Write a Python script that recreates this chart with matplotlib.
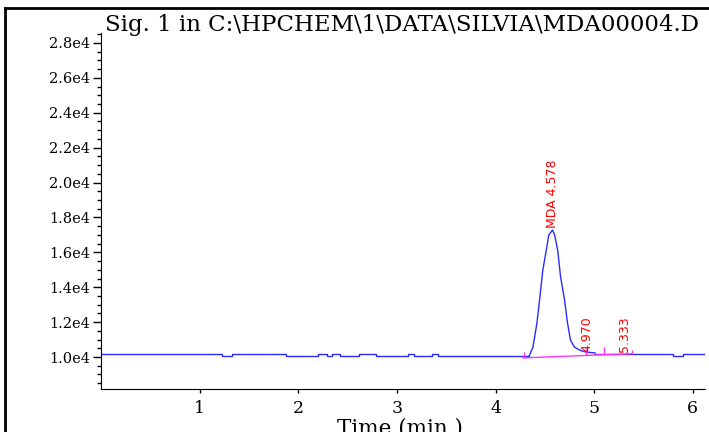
import matplotlib
matplotlib.use("Agg")
import matplotlib.pyplot as plt
from matplotlib.lines import Line2D
from matplotlib.ticker import MultipleLocator, FuncFormatter

# baseline before the peak (step levels)
pre_t = [0.00, 1.23, 1.33, 1.88, 2.20, 2.29, 2.34, 2.42, 2.62, 2.79, 3.11, 3.17, 3.36, 3.42, 3.90, 4.34]
pre_v = [10170, 10085, 10170, 10085, 10170, 10085, 10170, 10085, 10170, 10085, 10170, 10085, 10170, 10085, 10040, 10040]

# MDA peak
peak_t = [4.34, 4.38, 4.42, 4.45, 4.48, 4.52, 4.54, 4.578, 4.60, 4.63, 4.66, 4.70, 4.73, 4.76, 4.80, 4.85, 4.91, 5.01]
peak_v = [10040, 10570, 11950, 13440, 14990, 16300, 16990, 17280, 16990, 16130, 14580, 13270, 11950, 10970, 10570, 10400, 10290, 10230]

# baseline after the peak
post_t = [5.01, 5.80, 5.90, 6.12]
post_v = [10155, 10085, 10155, 10155]

# integration baseline and peak markers
base_t = [4.28, 4.92, 5.10, 5.38]
base_v = [9950, 10090, 10130, 10190]
mark_t = [4.29, 4.92, 5.10, 5.38]
mark_lo = [9940, 10115, 10170, 10170]
mark_hi = [10290, 10515, 10570, 10400]

labels = ["MDA 4.578", "4.970", "5.333"]
label_t = [4.575, 4.93, 5.31]
label_v = [17390, 10290, 10290]

blue = "#2a2aff"
pink = "#ff33ff"

fig = plt.figure(figsize=(7.09, 4.32), dpi=100)
W, H = 709, 432
ax = fig.add_axes([101 / W, (H - 389) / H, (705 - 101) / W, (389 - 33) / H])

ax.plot(pre_t, pre_v, color=blue, lw=1.0, drawstyle="steps-post")
ax.plot(peak_t, peak_v, color=blue, lw=1.0)
ax.plot(post_t, post_v, color=blue, lw=1.0, drawstyle="steps-post")
ax.plot(base_t, base_v, color=pink, lw=1.0)
ax.vlines(mark_t, mark_lo, mark_hi, color=pink, lw=1.0)

for s, t, v in zip(labels, label_t, label_v):
    ax.text(t, v, s, rotation=90, ha="center", va="bottom", color="red",
            fontsize=9, family="DejaVu Sans")

ax.set_xlim(0, 6.124)
ax.set_ylim(8166, 28573)
ax.set_xticks([1, 2, 3, 4, 5, 6])
ax.yaxis.set_minor_locator(MultipleLocator(500))
ax.set_yticks([10000 + 2000 * i for i in range(10)])
ax.yaxis.set_major_formatter(FuncFormatter(lambda v, p: "%.1fe4" % (v / 1e4)))

for side in ["top", "right"]:
    ax.spines[side].set_visible(False)

ax.tick_params(axis="y", which="major", direction="out", length=6, width=1, pad=2,
               labelsize=10.5, labelfontfamily="DejaVu Serif")
ax.tick_params(axis="y", which="minor", direction="out", length=3, width=1)
ax.tick_params(axis="x", direction="out", length=3, width=1, pad=5,
               labelsize=12.5, labelfontfamily="DejaVu Serif")

fig.text(400 / W, (H - 417) / H, "Time (min.)", ha="center", va="top",
         fontsize=15.5, family="DejaVu Serif")
fig.text(105 / W, (H - 31) / H, "Sig. 1 in C:\\HPCHEM\\1\\DATA\\SILVIA\\MDA00004.D",
         ha="left", va="baseline", fontsize=16.5, family="DejaVu Serif")

# outer frame (cropped on the right and bottom)
fig.add_artist(Line2D([5 / W, 1.0], [1 - 8 / H, 1 - 8 / H], transform=fig.transFigure,
                      color="black", lw=2))
fig.add_artist(Line2D([5 / W, 5 / W], [0.0, 1 - 8 / H], transform=fig.transFigure,
                      color="black", lw=2))

fig.savefig("out.png", dpi=100)
